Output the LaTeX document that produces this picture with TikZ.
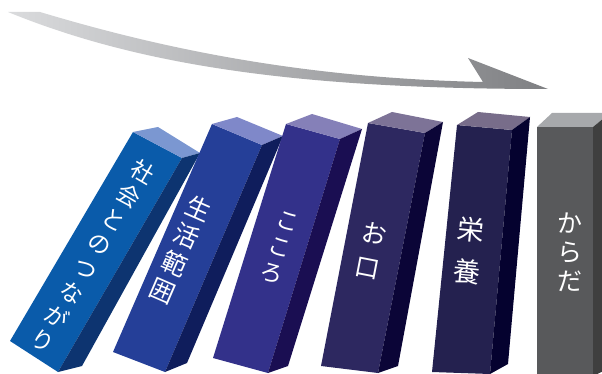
\documentclass[tikz,border=0pt]{standalone}
\usepackage{fontspec}
\newfontfamily\cjk{Noto Sans CJK JP}
\definecolor{f1}{HTML}{0A5BAA}\definecolor{s1}{HTML}{0D3470}\definecolor{t1}{HTML}{7B97D1}
\definecolor{f2}{HTML}{253F98}\definecolor{s2}{HTML}{0F1D5C}\definecolor{t2}{HTML}{7F88C9}
\definecolor{f3}{HTML}{33318A}\definecolor{s3}{HTML}{1A0E52}\definecolor{t3}{HTML}{8580B8}
\definecolor{f4}{HTML}{2D2860}\definecolor{s4}{HTML}{0B0537}\definecolor{t4}{HTML}{7D7397}
\definecolor{f5}{HTML}{24214F}\definecolor{s5}{HTML}{05022F}\definecolor{t5}{HTML}{786D8A}
\definecolor{f6}{HTML}{58595B}\definecolor{s6}{HTML}{3F3F3F}\definecolor{t6}{HTML}{A7A9AC}
\definecolor{arrL}{HTML}{DADBDD}\definecolor{arrR}{HTML}{7F8083}
\tikzset{
  label/.style={text=white, inner sep=0pt, align=center},
}
\begin{document}
\begin{tikzpicture}[x=1pt,y=-1pt]
\useasboundingbox (0,0) rectangle (602,374);
\clip (0,0) rectangle (602,374);
% arrow
\shade[left color=arrL, right color=arrR]
  (8,12) -- (40,12) .. controls (160,48) and (300,78) .. (483,82)
  -- (468,58) -- (548,89)
  .. controls (300,89) and (140,66) .. (8,12) -- cycle;
% block 1
\fill[f1] (133,132) -- (182,158) -- (58,372) -- (10,341) -- cycle;
\fill[t1] (133,132) -- (158,127) -- (200,153) -- (182,158) -- cycle;
\fill[s1] (182,158) -- (200,153) -- (82,366) -- (58,372) -- cycle;
% block 2
\fill[f2] (212,124) -- (262,145) -- (165,372) -- (113,352) -- cycle;
\fill[t2] (212,124) -- (237,117) -- (283,136) -- (262,145) -- cycle;
\fill[s2] (262,145) -- (283,136) -- (187,363) -- (165,372) -- cycle;
% block 3
\fill[f3] (286,124) -- (340,139) -- (268,373) -- (213,358) -- cycle;
\fill[t3] (286,124) -- (312,114) -- (362,129) -- (340,139) -- cycle;
\fill[s3] (340,139) -- (362,129) -- (288,366) -- (268,373) -- cycle;
% block 4
\fill[f4] (368,123) -- (425,133) -- (378,373) -- (321,366) -- cycle;
\fill[t4] (368,123) -- (392,112) -- (443,122) -- (425,133) -- cycle;
\fill[s4] (425,133) -- (443,122) -- (398,366) -- (378,373) -- cycle;
% block 5
\fill[f5] (457,125) -- (512,130) -- (490,374) -- (432,372) -- cycle;
\fill[t5] (457,125) -- (478,112) -- (530,117) -- (512,130) -- cycle;
\fill[s5] (512,130) -- (530,117) -- (508,364) -- (490,374) -- cycle;
% block 6
\fill[f6] (537,127) -- (593,127) -- (593,376) -- (537,376) -- cycle;
\fill[t6] (537,127) -- (552,113) -- (610,113) -- (593,127) -- cycle;
\fill[s6] (593,127) -- (610,113) -- (610,368) -- (593,376) -- cycle;
% labels
\node[label, rotate=-30.6, font=\cjk\fontsize{23}{28}\selectfont] (l1) at (93,256) {社\\会\\と\\の\\つ\\な\\が\\り};
\node[label, rotate=-23.5, font=\cjk\fontsize{25}{30}\selectfont] (l2) at (181,250) {生\\活\\範\\囲};
\node[label, rotate=-17.3, font=\cjk\fontsize{23}{27}\selectfont] (l3) at (280,248) {こ\\こ\\ろ};
\node[label, rotate=-11, font=\cjk\fontsize{25}{35}\selectfont] (l4) at (371,251) {お\\口};
\node[label, rotate=-5.8, font=\cjk\fontsize{27}{42}\selectfont] (l5) at (469,251) {栄\\養};
\node[label, font=\cjk\fontsize{25}{29}\selectfont] (l6) at (570,252) {か\\ら\\だ};
\end{tikzpicture}
\end{document}
